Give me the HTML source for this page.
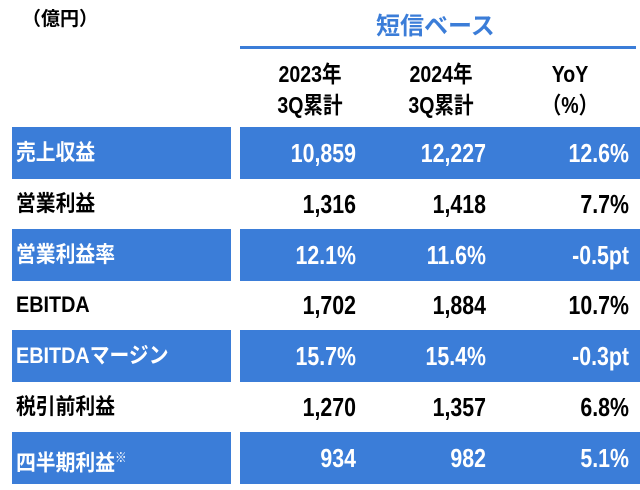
<!DOCTYPE html>
<html><head><meta charset="utf-8"><style>
body{margin:0;width:640px;height:490px;background:#fff;position:relative;overflow:hidden;font-family:"Liberation Sans","Noto Sans CJK JP",sans-serif;font-weight:bold}
.a{position:absolute;white-space:nowrap}
.bl{position:absolute;background:#3b7dd8}
.lab{position:absolute;left:16px;font-size:22px;line-height:52px;transform:scaleX(0.9);transform-origin:left center;white-space:nowrap}
.v{position:absolute;font-size:26px;line-height:52px;text-align:right;width:140px;transform:scaleX(0.82);transform-origin:right center}
.h{position:absolute;font-size:23px;text-align:center;width:140px;line-height:31px;transform:scaleX(0.85)}
</style></head><body>
<div class="a" style="left:22px;top:4px;font-size:19px">（億円）</div>
<div class="a" style="left:376px;top:6px;font-size:24px;color:#3b7dd8">短信ベース</div>
<div class="a" style="left:240px;top:46px;width:396px;height:3px;background:#3b7dd8"></div>
<div class="h" style="left:240px;top:59px">2023年<br>3Q累計</div>
<div class="h" style="left:371px;top:59px">2024年<br>3Q累計</div>
<div class="h" style="left:500px;top:59px">YoY<br>（%）</div>
<div id="t"></div>
<script>
const labels=["売上収益","営業利益","営業利益率","EBITDA","EBITDAマージン","税引前利益","四半期利益<sup style='font-size:13px'>※</sup>"];
const v2023=["10,859","1,316","12.1%","1,702","15.7%","1,270","934"];
const v2024=["12,227","1,418","11.6%","1,884","15.4%","1,357","982"];
const yoy=["12.6%","7.7%","-0.5pt","10.7%","-0.3pt","6.8%","5.1%"];
const t=document.getElementById('t');
labels.forEach((l,i)=>{
 const top=127+i*50.8, blue=i%2===0, col=blue?'#fff':'#000';
 if(blue){
  const a=document.createElement('div');a.className='bl';
  
  
  a.style.cssText=`left:12px;top:${top}px;width:219px;height:52px`;t.appendChild(a);
  const b=document.createElement('div');b.className='bl';
  
  
  b.style.cssText=`left:240px;top:${top}px;width:400px;height:52px`;t.appendChild(b);
 }
 const d=document.createElement('div');d.className='lab';d.innerHTML=l;
 
 
 d.style.cssText=`top:${top}px;color:${col}`;t.appendChild(d);
 [[v2023[i],216],[v2024[i],346],[yoy[i],489]].forEach(([s,x])=>{
  const e=document.createElement('div');e.className='v';e.textContent=s;
  
  
  e.style.cssText=`left:${x}px;top:${top}px;color:${col}`;t.appendChild(e);
 });
});
</script>
</body></html>
